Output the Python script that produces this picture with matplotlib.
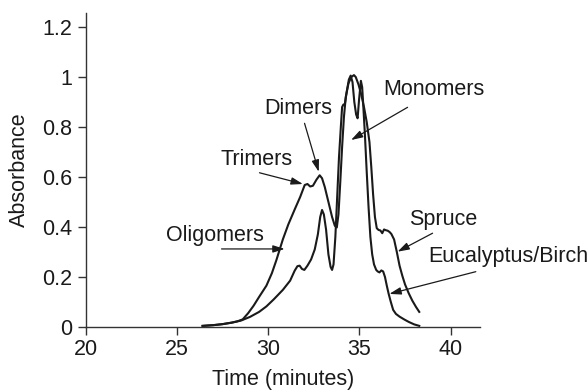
import matplotlib
matplotlib.use("Agg")
import matplotlib.pyplot as plt

plt.rcParams['font.family'] = ['Liberation Sans', 'DejaVu Sans']

# ---- data ----
spruce_x = [26.4, 27.0, 27.5, 28.0, 28.3, 28.6, 28.9, 29.2, 29.5, 29.9, 30.2, 30.45,
            30.8, 31.1, 31.45, 31.75, 32.0, 32.15, 32.3, 32.45, 32.65, 32.82, 32.95,
            33.1, 33.3, 33.5, 33.65, 33.76, 33.85, 33.95, 34.05, 34.15, 34.25, 34.4,
            34.55, 34.7, 34.8, 34.95, 35.1, 35.25, 35.4, 35.55, 35.65, 35.75, 35.85,
            35.95, 36.05, 36.15, 36.25, 36.35, 36.45, 36.55, 36.65, 36.75, 36.9, 37.05,
            37.2, 37.35, 37.5, 37.7, 37.9, 38.1, 38.28]
spruce_y = [0.004, 0.007, 0.011, 0.017, 0.022, 0.03, 0.055, 0.085, 0.12, 0.165, 0.215, 0.268,
            0.35, 0.41, 0.47, 0.52, 0.568, 0.572, 0.562, 0.565, 0.59, 0.607, 0.595,
            0.56, 0.50, 0.44, 0.405, 0.398, 0.45, 0.58, 0.72, 0.84, 0.92, 0.975,
            1.0, 1.008, 1.0, 0.97, 0.93, 0.88, 0.82, 0.74, 0.64, 0.53, 0.44,
            0.395, 0.388, 0.386, 0.375, 0.39, 0.387, 0.385, 0.38, 0.372, 0.35, 0.30,
            0.245, 0.205, 0.17, 0.135, 0.105, 0.08, 0.06]

euc_x = [26.4, 27.0, 27.5, 28.0, 28.5, 29.0, 29.5, 29.9, 30.3, 30.8, 31.2, 31.45, 31.6,
         31.72, 31.85, 31.98, 32.15, 32.35, 32.55, 32.72, 32.85, 32.95, 33.05, 33.17,
         33.3, 33.42, 33.5, 33.58, 33.68, 33.78, 33.88, 33.98, 34.05, 34.12, 34.2, 34.3,
         34.42, 34.52, 34.62, 34.72, 34.82, 34.9, 34.98, 35.08, 35.15, 35.2, 35.3, 35.4,
         35.5, 35.6, 35.7, 35.8, 35.92, 36.0, 36.1, 36.2, 36.3, 36.4, 36.5, 36.6, 36.72,
         36.85, 37.0, 37.2, 37.45, 37.7, 38.0, 38.28]
euc_y = [0.004, 0.007, 0.011, 0.017, 0.025, 0.04, 0.06, 0.082, 0.11, 0.148, 0.185, 0.225, 0.243,
         0.245, 0.232, 0.228, 0.245, 0.27, 0.31, 0.37, 0.44, 0.468, 0.45, 0.39,
         0.29, 0.24, 0.228, 0.25, 0.36, 0.52, 0.68, 0.80, 0.88, 0.89, 0.892, 0.94,
         0.99, 1.006, 0.98, 0.90, 0.85, 0.835, 0.91, 0.985, 0.96, 0.90, 0.77, 0.62,
         0.48, 0.36, 0.29, 0.25, 0.228, 0.222, 0.218, 0.226, 0.222, 0.2, 0.165, 0.133, 0.1,
         0.068, 0.052, 0.041, 0.03, 0.02, 0.01, 0.004]

x_ticks = [20, 25, 30, 35, 40]
y_ticks = [0, 0.2, 0.4, 0.6, 0.8, 1.0, 1.2]
y_tick_labels = ["0", "0.2", "0.4", "0.6", "0.8", "1", "1.2"]

# annotations: (label, text centre, arrow tail, arrow head)
ann_labels = ["Oligomers", "Trimers", "Dimers", "Monomers", "Spruce", "Eucalyptus/Birch"]
ann_text_xy = [(27.06, 0.364), (29.36, 0.672), (31.65, 0.876), (39.1, 0.951), (39.58, 0.431), (43.15, 0.281)]
ann_tail_xy = [(27.44, 0.312), (29.52, 0.617), (31.99, 0.815), (37.64, 0.879), (39.01, 0.375), (41.38, 0.221)]
ann_head_xy = [(30.9, 0.312), (31.9, 0.572), (32.77, 0.621), (34.54, 0.748), (37.09, 0.301), (36.64, 0.132)]

# ---- figure ----
fig = plt.figure(figsize=(5.88, 3.91), dpi=100)
ax = fig.add_axes([0.146, 0.164, 0.670, 0.803])

ink = '#1a1a1a'
fs = 15.5
ax.plot(spruce_x, spruce_y, color=ink, lw=1.5, solid_joinstyle='round')
ax.plot(euc_x, euc_y, color=ink, lw=1.5, solid_joinstyle='round')

for lab, txy, tail, head in zip(ann_labels, ann_text_xy, ann_tail_xy, ann_head_xy):
    ax.text(txy[0], txy[1], lab, fontsize=fs, color=ink, ha='center', va='center',
            clip_on=False)
    ax.annotate('', xy=head, xytext=tail, annotation_clip=False,
                arrowprops=dict(arrowstyle='-|>,head_length=0.7,head_width=0.22',
                                color=ink, lw=0.9, shrinkA=0, shrinkB=0))

ax.set_xlim(20, 41.6)
ax.set_ylim(0, 1.257)
ax.set_xticks(x_ticks)
ax.set_yticks(y_ticks)
ax.set_yticklabels(y_tick_labels)
for s in ['top', 'right']:
    ax.spines[s].set_visible(False)
for s in ['left', 'bottom']:
    ax.spines[s].set_color('#333333')
    ax.spines[s].set_linewidth(1.0)
ax.tick_params(axis='both', direction='out', length=6, width=1.0, colors='#333333',
               labelsize=fs, labelcolor=ink)
ax.tick_params(axis='y', pad=4)
ax.tick_params(axis='x', pad=3)

ax.set_xlabel('Time (minutes)', fontsize=fs, color=ink)
ax.set_ylabel('Absorbance', fontsize=fs, color=ink)
ax.xaxis.set_label_coords(0.5, -0.135)
ax.yaxis.set_label_coords(-0.142, 0.5)

fig.savefig('out.png', dpi=100)
